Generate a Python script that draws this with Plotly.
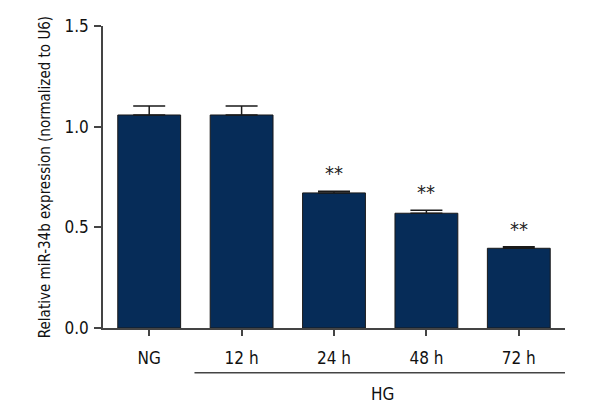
import plotly.graph_objects as go

# group labels and values
groups = ["NG", "12 h", "24 h", "48 h", "72 h"]
expression = [1.058, 1.058, 0.671, 0.570, 0.396]
sem = [0.045, 0.045, 0.008, 0.015, 0.008]
stars = ["", "", "**", "**", "**"]

FONT = "Liberation Sans Narrow, DejaVu Sans Condensed, sans-serif"
NAVY = "#062c58"

fig = go.Figure()

fig.add_trace(go.Bar(
    x=groups,
    y=expression,
    width=0.68,
    marker=dict(color=NAVY, line=dict(color="#1a1a1a", width=1)),
    error_y=dict(
        type="data", symmetric=False, array=sem,
        arrayminus=[0] * len(sem),
        color="#1a1a1a", thickness=1.5, width=16,
    ),
    showlegend=False,
))

# significance marks above the error bars
for g, v, e, s in zip(groups, expression, sem, stars):
    if s:
        fig.add_annotation(
            x=g, y=v + e, text=s, showarrow=False,
            yanchor="bottom", yshift=4,
            font=dict(family=FONT, size=20, color="#222"),
        )

# HG bracket under the time points
fig.add_shape(
    type="line", xref="x", yref="paper",
    x0=0.49, x1=4.5, y0=-0.148, y1=-0.148,
    line=dict(color="#444", width=1.5),
)
fig.add_annotation(
    x=2.52, y=-0.178, xref="x", yref="paper",
    text="HG", showarrow=False, yanchor="top",
    font=dict(family=FONT, size=17, color="#111"),
)

# page body has an 8px margin, so the figure is a bit smaller than the window
fig.update_layout(
    width=592, height=412,
    plot_bgcolor="white", paper_bgcolor="white",
    margin=dict(l=95, r=35, t=18, b=92),
    font=dict(family=FONT, size=16, color="#111"),
)

fig.update_xaxes(
    range=[-0.5, 4.5], automargin=False,
    showline=True, linecolor="#444", linewidth=1.5,
    ticks="outside", ticklen=6, tickwidth=1.5, tickcolor="#444",
    ticklabelstandoff=8,
    showgrid=False, zeroline=False,
    tickfont=dict(family=FONT, size=17),
)
fig.update_yaxes(
    range=[0, 1.5], automargin=False,
    tickvals=[0, 0.5, 1.0, 1.5], tickformat=".1f",
    showline=True, linecolor="#444", linewidth=1.5,
    ticks="outside", ticklen=7, tickwidth=1.5, tickcolor="#444",
    ticklabelstandoff=2,
    showgrid=False, zeroline=False,
    tickfont=dict(family=FONT, size=17),
    title=dict(text="Relative miR-34b expression (normalized to U6)",
               font=dict(family=FONT, size=15), standoff=10),
)

fig.write_html("out.html")
